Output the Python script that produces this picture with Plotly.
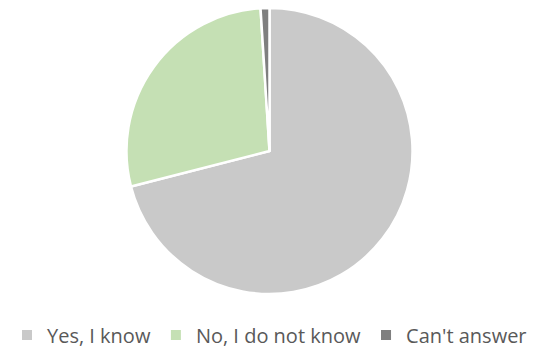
import plotly.graph_objects as go

# Survey answers (share of respondents, %)
labels = ["Yes, I know", "No, I do not know", "Can't answer"]
values = [71, 28, 1]
colors = ["#C9C9C9", "#C5E0B4", "#7F7F7F"]

fig = go.Figure(
    go.Pie(
        labels=labels,
        values=values,
        sort=False,
        direction="clockwise",
        rotation=0,
        textinfo="none",
        hoverinfo="label+percent",
        marker=dict(colors=colors, line=dict(color="white", width=2.5)),
        domain=dict(x=[0, 1], y=[0.1856, 0.978]),
    )
)

fig.update_layout(
    width=539,
    height=361,
    margin=dict(l=0, r=0, t=0, b=0),
    paper_bgcolor="white",
    plot_bgcolor="white",
    showlegend=True,
    legend=dict(
        orientation="h",
        x=0.5,
        xanchor="center",
        y=0.072,
        yanchor="middle",
        font=dict(family="Open Sans", size=20, color="#595959"),
        itemwidth=30,
        itemsizing="constant",
        traceorder="normal",
    ),
)

fig.write_html("out.html")
